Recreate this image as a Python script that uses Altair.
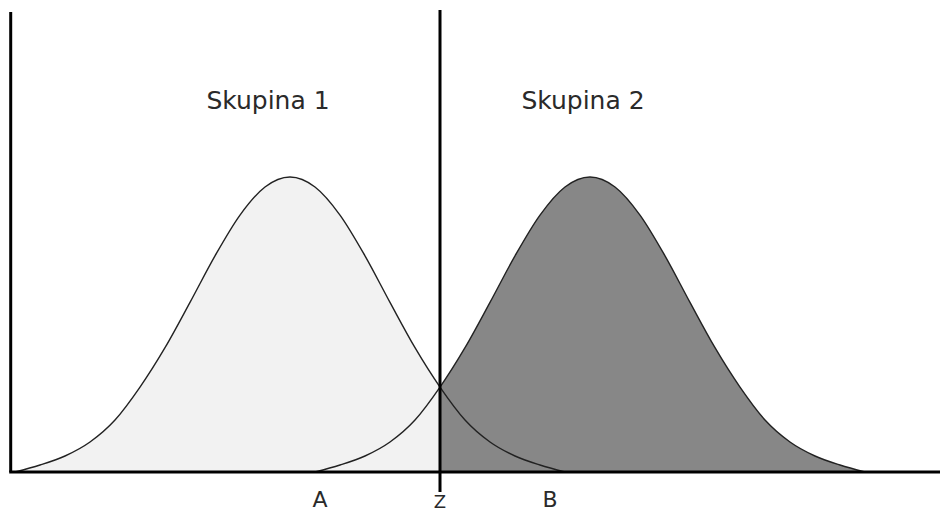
import altair as alt
import pandas as pd

# Curve samples (x position, height above the baseline)
left_x = [15, 40, 65, 90, 115, 140, 165, 190, 215, 240, 265, 290,
          315, 340, 365, 390, 415, 440, 465, 490, 515, 540, 565]
right_x = [315, 340, 365, 390, 415, 440, 465, 490, 515, 540, 565, 590,
           615, 640, 665, 690, 715, 740, 765, 790, 815, 840, 865]
curve_h = [0.0, 7.0, 16.0, 30.0, 52.0, 84.9, 124.3, 169.6, 216.1, 256.9, 285.0, 295.0,
           285.0, 256.9, 216.1, 169.6, 124.3, 84.9, 52.0, 30.0, 16.0, 7.0, 0.0]

split_x = 440           # position of the Z divider
group_labels = ["Skupina 1", "Skupina 2"]
group_label_x = [268, 583]
group_label_h = [371, 371]
axis_labels = ["A", "B"]
axis_label_x = [320, 550]
axis_label_h = [-28, -28]

W, H = 932, 505
xs = alt.Scale(domain=[8, 8 + W], nice=False, zero=False)
ys = alt.Scale(domain=[464 - H, 464], nice=False, zero=False)

left = pd.DataFrame({"x": left_x, "h": curve_h})
right = pd.DataFrame({"x": right_x, "h": curve_h})
left_fill = left[left.x <= split_x]
right_fill = right[right.x >= split_x]

X = lambda: alt.X("x:Q", scale=xs, axis=None)
Y = lambda f="h": alt.Y(f"{f}:Q", scale=ys, axis=None)

fill_l = alt.Chart(left_fill).mark_area(color="#f2f2f2", interpolate="monotone").encode(
    x=X(), y=Y(), y2=alt.datum(0))
fill_r = alt.Chart(right_fill).mark_area(color="#878787", interpolate="monotone").encode(
    x=X(), y=Y(), y2=alt.datum(0))
line_l = alt.Chart(left).mark_line(color="#222", strokeWidth=1.4, interpolate="monotone").encode(
    x=X(), y=Y())
line_r = alt.Chart(right).mark_line(color="#222", strokeWidth=1.4, interpolate="monotone").encode(
    x=X(), y=Y())

yaxis = alt.Chart(pd.DataFrame({"x": [10.7], "a": [0], "b": [460]})).mark_rule(
    color="black", strokeWidth=3).encode(x=X(), y=Y("a"), y2="b:Q")
xaxis = alt.Chart(pd.DataFrame({"a": [9.2], "b": [948], "h": [0]})).mark_rule(
    color="black", strokeWidth=3).encode(x=alt.X("a:Q", scale=xs, axis=None), x2="b:Q", y=Y())
zline = alt.Chart(pd.DataFrame({"x": [split_x], "a": [-20], "b": [462]})).mark_rule(
    color="black", strokeWidth=3).encode(x=X(), y=Y("a"), y2="b:Q")

glabels = alt.Chart(pd.DataFrame({"x": group_label_x, "h": group_label_h, "t": group_labels})).mark_text(
    font="DejaVu Sans", fontSize=25, color="#2a2a2a", baseline="middle", align="center").encode(
    x=X(), y=Y(), text="t:N")
alabels = alt.Chart(pd.DataFrame({"x": axis_label_x, "h": axis_label_h, "t": axis_labels})).mark_text(
    font="DejaVu Sans", fontSize=22, color="#2a2a2a", baseline="middle", align="center").encode(
    x=X(), y=Y(), text="t:N")
zlabel = alt.Chart(pd.DataFrame({"x": [split_x], "h": [-31], "t": ["Z"]})).mark_text(
    font="DejaVu Sans", fontSize=18, color="#2a2a2a", baseline="middle", align="center").encode(
    x=X(), y=Y(), text="t:N")

chart = alt.layer(fill_l, fill_r, line_l, line_r, yaxis, xaxis, zline, glabels, alabels, zlabel).properties(
    width=W, height=H, autosize=alt.AutoSizeParams(type="none"), padding=0
).configure_view(stroke=None)

chart.save("out.html", embed_options={"renderer": "svg", "actions": False})
